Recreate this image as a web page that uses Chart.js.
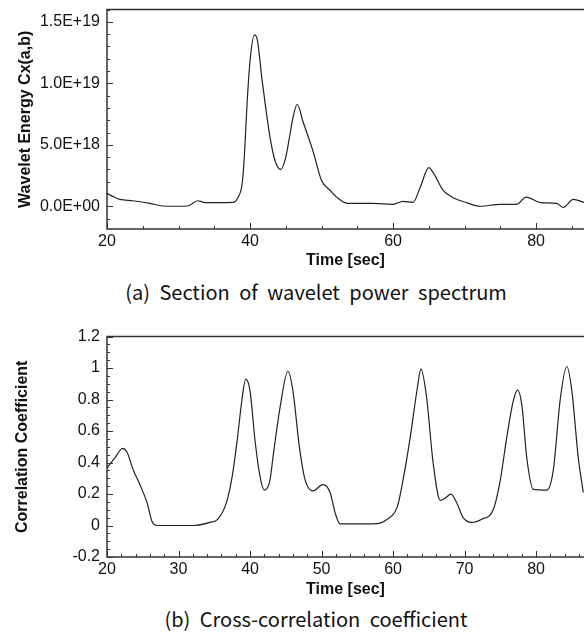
<!DOCTYPE html>
<html>
<head>
<meta charset="utf-8">
<script src="https://cdn.jsdelivr.net/npm/chart.js@4/dist/chart.umd.min.js"></script>
<style>
  body { margin: 0; background: #fff; width: 584px; height: 635px; position: relative; overflow: hidden; }
  canvas { position: absolute; left: 0; }
  .cap { position: absolute; left: 0; width: 632px; text-align: center; font-family: "Noto Sans CJK KR", "Noto Sans", sans-serif;
         font-size: 20px; line-height: 22px; color: #111; word-spacing: 5px; white-space: nowrap; }
</style>
</head>
<body>
<canvas id="chartA" width="584" height="277" style="top:-7px"></canvas>
<div class="cap" style="top:281px">(a) Section of wavelet power spectrum</div>
<canvas id="chartB" width="584" height="280" style="top:320px"></canvas>
<div class="cap" style="top:608px">(b) Cross-correlation coefficient</div>
<script>
// (a) wavelet energy section
const timeA = [20.0, 21.0, 21.8, 23.6, 26.0, 27.8, 29.5, 31.3, 32.0, 32.7, 33.7, 35.5, 37.6, 38.3, 38.9, 39.2, 39.6, 40.0,
  40.6, 41.0, 41.7, 42.8, 43.5, 44.3, 45.0, 45.6, 46.0, 46.6, 47.4, 48.8, 50.0, 51.2, 52.3, 53.6, 57.2, 60.0, 61.4,
  62.8, 63.8, 65.0, 65.6, 67.0, 68.4, 70.0, 72.2, 75.0, 77.3, 78.6, 80.6, 82.9, 83.8, 85.2, 86.7];
const energyA = [1.05e18, 0.75e18, 0.56e18, 0.45e18, 0.24e18, 0.02e18, 0.0, 0.02e18, 0.25e18, 0.45e18, 0.3e18, 0.3e18,
  0.32e18, 0.7e18, 1.85e18, 4.0e18, 8.5e18, 11.8e18, 13.95e18, 13.6e18, 10.2e18, 5.6e18, 3.7e18, 3.0e18, 4.0e18, 5.9e18,
  7.2e18, 8.3e18, 6.9e18, 4.5e18, 2.1e18, 1.3e18, 0.65e18, 0.24e18, 0.24e18, 0.16e18, 0.4e18, 0.32e18, 1.55e18, 3.15e18,
  2.75e18, 1.3e18, 0.7e18, 0.35e18, 0.0, 0.16e18, 0.16e18, 0.75e18, 0.3e18, 0.24e18, -0.1e18, 0.56e18, 0.32e18];
const yTicksA = [0, 5e18, 1e19, 1.5e19];
const yLabelsA = ["0.0E+00", "5.0E+18", "1.0E+19", "1.5E+19"];
const xTicksA = [20, 40, 60, 80];

// (b) cross-correlation coefficient
const timeB = [20.0, 21.1, 22.2, 22.8, 23.7, 24.6, 25.6, 26.3, 27.0, 32.0, 34.4, 35.5, 36.7, 37.5, 38.2, 38.9, 39.4, 40.0,
  40.7, 41.4, 42.0, 42.8, 43.2, 44.2, 45.3, 46.0, 46.9, 47.7, 48.8, 50.2, 51.2, 51.9, 52.6, 57.2, 59.2, 60.6, 61.4, 62.4,
  63.4, 63.9, 64.7, 65.6, 66.6, 67.3, 68.1, 68.9, 69.8, 71.0, 72.4, 74.0, 75.0, 75.9, 76.8, 77.4, 78.0, 78.7, 79.6, 81.5,
  82.4, 83.4, 84.3, 85.0, 85.9, 86.6];
const corrB = [0.365, 0.43, 0.49, 0.465, 0.35, 0.26, 0.145, 0.025, 0.0, 0.0, 0.02, 0.04, 0.145, 0.31, 0.54, 0.81, 0.93,
  0.855, 0.54, 0.31, 0.225, 0.29, 0.43, 0.75, 0.98, 0.855, 0.5, 0.29, 0.22, 0.26, 0.21, 0.08, 0.01, 0.01, 0.04, 0.12,
  0.29, 0.56, 0.875, 0.995, 0.81, 0.4, 0.16, 0.175, 0.2, 0.145, 0.05, 0.02, 0.04, 0.1, 0.29, 0.56, 0.79, 0.86, 0.77,
  0.43, 0.23, 0.225, 0.35, 0.81, 1.01, 0.855, 0.43, 0.21];
const yTicksB = [-0.2, 0, 0.2, 0.4, 0.6, 0.8, 1, 1.2];
const yLabelsB = ["-0.2", "0", "0.2", "0.4", "0.6", "0.8", "1", "1.2"];
const xTicksB = [20, 30, 40, 50, 60, 70, 80];

const INK = "#222";
const tickFont = { family: "'Liberation Sans', Arial, sans-serif", size: 16 };
const titleFont = { family: "'Liberation Sans', Arial, sans-serif", size: 16, weight: "bold" };

// frame lines (left, top, bottom) and inward tick marks
const frame = {
  id: "frame",
  afterDraw(chart, args, opts) {
    const { ctx, chartArea: a, scales: { x, y } } = chart;
    ctx.save();
    ctx.strokeStyle = "#333";
    ctx.lineWidth = 1.5;
    ctx.beginPath();
    ctx.moveTo(a.right, a.top);
    ctx.lineTo(a.left, a.top);
    ctx.lineTo(a.left, a.bottom);
    ctx.lineTo(a.right, a.bottom);
    ctx.stroke();
    ctx.lineWidth = 1;
    ctx.beginPath();
    for (let v = x.min; v <= x.max + 1e-9; v += opts.xMinor) {
      const px = Math.round(x.getPixelForValue(v)) + 0.5;
      const major = opts.xMajor.some(t => Math.abs(t - v) < 1e-6);
      ctx.moveTo(px, a.bottom);
      ctx.lineTo(px, a.bottom - (major ? 6 : 3));
    }
    for (let i = 0; ; i++) {
      const v = opts.yStart + i * opts.yMinor;
      if (v > y.max + 1e-9 * Math.abs(opts.yMinor)) break;
      const py = Math.round(y.getPixelForValue(v)) + 0.5;
      const major = opts.yMajor.some(t => Math.abs(t - v) < opts.yMinor * 1e-3);
      ctx.moveTo(a.left, py);
      ctx.lineTo(a.left + (major ? 6 : 3), py);
    }
    ctx.stroke();
    ctx.restore();
  }
};

function makeChart(id, xs, ys, cfg) {
  return new Chart(document.getElementById(id), {
    type: "line",
    data: {
      datasets: [{
        data: xs.map((t, i) => ({ x: t, y: ys[i] })),
        borderColor: INK,
        borderWidth: 1.2,
        pointRadius: 0,
        cubicInterpolationMode: "monotone",
        fill: false
      }]
    },
    options: {
      responsive: false,
      animation: false,
      layout: { padding: { top: cfg.padTop, right: 0, bottom: 0, left: 0 } },
      plugins: {
        legend: { display: false },
        tooltip: { enabled: false },
        frame: cfg.frame
      },
      scales: {
        x: {
          type: "linear",
          min: 20,
          max: 86.7,
          afterFit: s => { s.height = cfg.xHeight; },
          afterBuildTicks: s => { s.ticks = cfg.xTicks.map(v => ({ value: v })); },
          grid: { display: false, drawTicks: false },
          border: { display: false },
          ticks: { color: "#111", font: tickFont, padding: 3, autoSkip: false, maxRotation: 0 },
          title: { display: true, text: "Time [sec]", color: "#111", font: titleFont, padding: { top: 0, bottom: cfg.xTitlePad } }
        },
        y: {
          min: cfg.yMin,
          max: cfg.yMax,
          afterFit: s => { s.width = 107; },
          afterBuildTicks: s => { s.ticks = cfg.yTicks.map(v => ({ value: v })); },
          grid: { display: false, drawTicks: false },
          border: { display: false },
          ticks: {
            color: "#111", font: tickFont, padding: 7,
            callback: v => cfg.yLabels[cfg.yTicks.findIndex(t => Math.abs(t - v) < 1e-9 * Math.max(1, Math.abs(t)))]
          },
          title: { display: true, text: cfg.yTitle, color: "#111", font: titleFont, padding: { top: cfg.yTitlePad, bottom: 0 } }
        }
      }
    },
    plugins: [frame]
  });
}

makeChart("chartA", timeA, energyA, {
  padTop: 15, xHeight: 41, xTitlePad: 0, yTitlePad: 16,
  yMin: -1.85e18, yMax: 1.6e19,
  xTicks: xTicksA, yTicks: yTicksA, yLabels: yLabelsA,
  yTitle: "Wavelet Energy Cx(a,b)",
  frame: { xMinor: 5, xMajor: xTicksA, yStart: -1e18, yMinor: 1e18, yMajor: yTicksA }
});

makeChart("chartB", timeB, corrB, {
  padTop: 15, xHeight: 43, xTitlePad: 1, yTitlePad: 13,
  yMin: -0.2, yMax: 1.2,
  xTicks: xTicksB, yTicks: yTicksB, yLabels: yLabelsB,
  yTitle: "Correlation Coefficient",
  frame: { xMinor: 2, xMajor: xTicksB, yStart: -0.2, yMinor: 0.05, yMajor: yTicksB }
});
</script>
</body>
</html>
